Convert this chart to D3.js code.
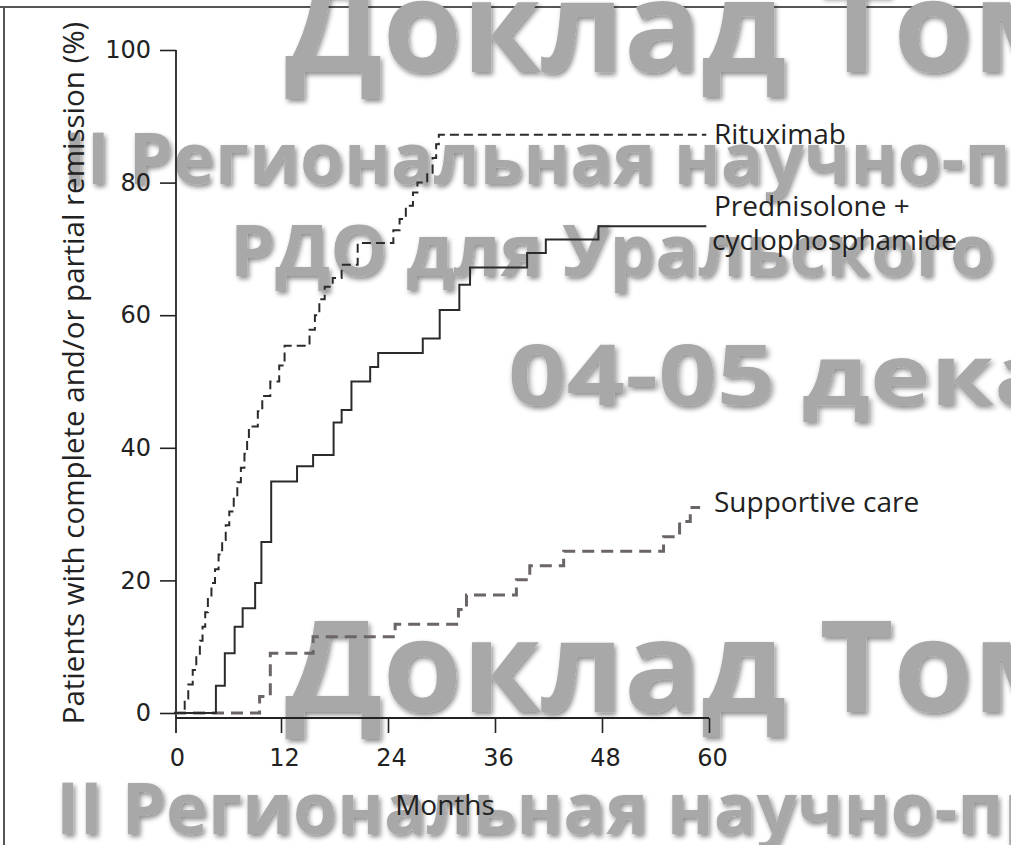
<!DOCTYPE html>
<html>
<head>
<meta charset="utf-8">
<script src="https://cdn.jsdelivr.net/npm/d3@7"></script>
<style>
  html, body { margin: 0; padding: 0; background: #fff; }
  svg { display: block; }
</style>
</head>
<body>
<svg id="chart" width="1011" height="845"></svg>
<script>
// Cumulative remission curves (months, % of patients)
const rituximabMonths = [0, 1.2, 1.6, 2.1, 2.5, 2.9, 3.2, 3.5, 3.8, 4.2, 4.6, 5.0, 5.4, 5.8, 6.2, 6.7, 7.1, 7.5, 7.9, 8.2, 8.4, 9.4, 9.9, 10.8, 11.8, 12.4, 15.2, 15.8, 16.3, 16.9, 17.8, 18.8, 20.6, 24.6, 25.3, 26.0, 26.8, 27.3, 28.4, 29.0, 29.4, 29.7, 59.7];
const rituximabPct    = [0, 2.2, 4.3, 6.5, 8.7, 10.9, 13.0, 15.2, 17.4, 19.6, 21.7, 23.9, 26.1, 28.3, 30.4, 32.6, 34.8, 37.0, 39.1, 41.3, 43.2, 45.5, 47.8, 50.0, 52.4, 55.4, 57.8, 60.0, 62.4, 64.3, 65.6, 67.6, 70.9, 72.8, 74.5, 76.5, 78.5, 80.0, 81.5, 83.7, 85.8, 87.2, 87.2];

const prednisoloneMonths = [0, 4.7, 5.7, 6.8, 7.7, 9.1, 9.8, 10.9, 13.8, 15.6, 17.9, 18.8, 19.9, 22.0, 22.9, 27.9, 29.8, 32.0, 33.2, 39.6, 41.7, 47.6, 59.7];
const prednisolonePct    = [0, 4.1, 9.0, 13.0, 15.8, 19.6, 25.8, 34.9, 37.2, 38.9, 43.8, 45.7, 50.0, 52.2, 54.3, 56.5, 60.8, 64.6, 67.2, 69.4, 71.4, 73.4, 73.4];

const supportiveMonths = [0, 9.6, 10.8, 15.6, 24.8, 31.9, 32.8, 38.4, 39.9, 43.7, 54.9, 56.7, 57.9, 59.0];
const supportivePct    = [0, 2.5, 9.0, 11.5, 13.4, 15.6, 17.8, 20.1, 22.2, 24.4, 26.6, 28.9, 31.0, 31.0];

const seriesLabels = [["Rituximab"], ["Prednisolone +", "cyclophosphamide"], ["Supportive care"]];
const xTicks = [0, 12, 24, 36, 48, 60];
const yTicks = [0, 20, 40, 60, 80, 100];
const xTitle = "Months";
const yTitle = "Patients with complete and/or partial remission (%)";

// Background banner text
const bannerLines = [
  { text: "Доклад Томской", x: 285, y: 72, size: 128 },
  { text: "II Региональная научно-практическая", x: 63, y: 184, size: 71 },
  { text: "РДО для Уральского округа", x: 230, y: 276, size: 72 },
  { text: "04-05 декабря", x: 508, y: 405, size: 84, stretch: 1.22 },
  { text: "Доклад Томской", x: 285, y: 712, size: 128 },
  { text: "II Региональная научно-практическая", x: 56, y: 834, size: 71 }
];

const svg = d3.select("#chart");

// Frame
svg.append("line").attr("x1", 0).attr("x2", 1011).attr("y1", 7).attr("y2", 7)
  .attr("stroke", "#555").attr("stroke-width", 2);
svg.append("line").attr("x1", 4).attr("x2", 4).attr("y1", 7).attr("y2", 845)
  .attr("stroke", "#555").attr("stroke-width", 2);

// Soft shadow for the banner lettering
const defs = svg.append("defs");
const f = defs.append("filter").attr("id", "shade").attr("x", "-5%").attr("y", "-20%").attr("width", "110%").attr("height", "140%");
f.append("feGaussianBlur").attr("in", "SourceAlpha").attr("stdDeviation", 2.5).attr("result", "b");
f.append("feOffset").attr("in", "b").attr("dx", 2).attr("dy", 3).attr("result", "o");
f.append("feComponentTransfer").attr("in", "o").attr("result", "s")
  .append("feFuncA").attr("type", "linear").attr("slope", 0.45);
const m = f.append("feMerge");
m.append("feMergeNode").attr("in", "s");
m.append("feMergeNode").attr("in", "SourceGraphic");

svg.append("g").attr("class", "banner")
  .selectAll("text").data(bannerLines).join("text")
  .attr("transform", d => `translate(${d.x},${d.y}) scale(${d.stretch || 1},1)`)
  .attr("font-family", "'Open Sans', sans-serif")
  .attr("font-weight", 700)
  .attr("font-size", d => d.size)
  .attr("fill", "#a8a8a8")
  .attr("filter", "url(#shade)")
  .text(d => d.text);

// Scales
const x = d3.scaleLinear().domain([0, 60]).range([174, 709]);
const y = d3.scaleLinear().domain([0, 100]).range([713, 50]);

const axisFont = "'DejaVu Sans', sans-serif";
const labelFont = "'Open Sans', sans-serif";

// Y axis
const yAxis = svg.append("g").attr("transform", "translate(176,0)")
  .call(d3.axisLeft(y).tickValues(yTicks).tickSize(16).tickPadding(9).tickSizeOuter(0));
yAxis.select(".domain").remove();
yAxis.selectAll("line").attr("stroke", "#222").attr("stroke-width", 1.6);
yAxis.selectAll("text").attr("font-family", axisFont).attr("font-size", 24).attr("fill", "#222");
svg.append("line").attr("x1", 176).attr("x2", 176).attr("y1", y(100)).attr("y2", 733)
  .attr("stroke", "#222").attr("stroke-width", 1.8);

// X axis
const xAxis = svg.append("g").attr("transform", "translate(0,718)")
  .call(d3.axisBottom(x).tickValues(xTicks).tickSize(15).tickPadding(16).tickSizeOuter(0));
xAxis.select(".domain").remove();
xAxis.selectAll("line").attr("stroke", "#222").attr("stroke-width", 1.6);
xAxis.selectAll(".tick").filter(d => d === 0).select("line").remove();
xAxis.selectAll("text").attr("font-family", axisFont).attr("font-size", 24).attr("fill", "#222")
  .attr("dx", 3);
svg.append("line").attr("x1", 176).attr("x2", x(60)).attr("y1", 718).attr("y2", 718)
  .attr("stroke", "#222").attr("stroke-width", 1.8);

// Axis titles
svg.append("text").attr("x", 445).attr("y", 815).attr("text-anchor", "middle")
  .attr("font-family", labelFont).attr("font-size", 28).attr("fill", "#222").text(xTitle);
svg.append("text").attr("transform", "translate(84,373) rotate(-90)").attr("text-anchor", "middle")
  .attr("font-family", labelFont).attr("font-size", 29.5).attr("fill", "#222").text(yTitle);

// Step curves
const stepLine = d3.line().x(d => x(d[0])).y(d => y(d[1])).curve(d3.curveStepAfter);
const zip = (a, b) => a.map((v, i) => [v, b[i]]);

svg.append("path").datum(zip(supportiveMonths, supportivePct))
  .attr("d", stepLine).attr("fill", "none")
  .attr("stroke", "#6b6566").attr("stroke-width", 3).attr("stroke-dasharray", "12,7");
svg.append("path").datum(zip(prednisoloneMonths, prednisolonePct))
  .attr("d", stepLine).attr("fill", "none")
  .attr("stroke", "#2b2b2b").attr("stroke-width", 2);
svg.append("path").datum(zip(rituximabMonths, rituximabPct))
  .attr("d", stepLine).attr("fill", "none")
  .attr("stroke", "#2b2b2b").attr("stroke-width", 2).attr("stroke-dasharray", "9,5");

// Curve labels
const lab = svg.append("g").attr("font-family", labelFont).attr("font-size", 28).attr("fill", "#222");
lab.append("text").attr("x", 714).attr("y", y(87.2) + 9).text(seriesLabels[0][0]);
lab.append("text").attr("x", 714).attr("y", 216).text(seriesLabels[1][0]);
lab.append("text").attr("x", 712).attr("y", 250).text(seriesLabels[1][1]);
lab.append("text").attr("x", 714).attr("y", 512).text(seriesLabels[2][0]);
</script>
</body>
</html>
